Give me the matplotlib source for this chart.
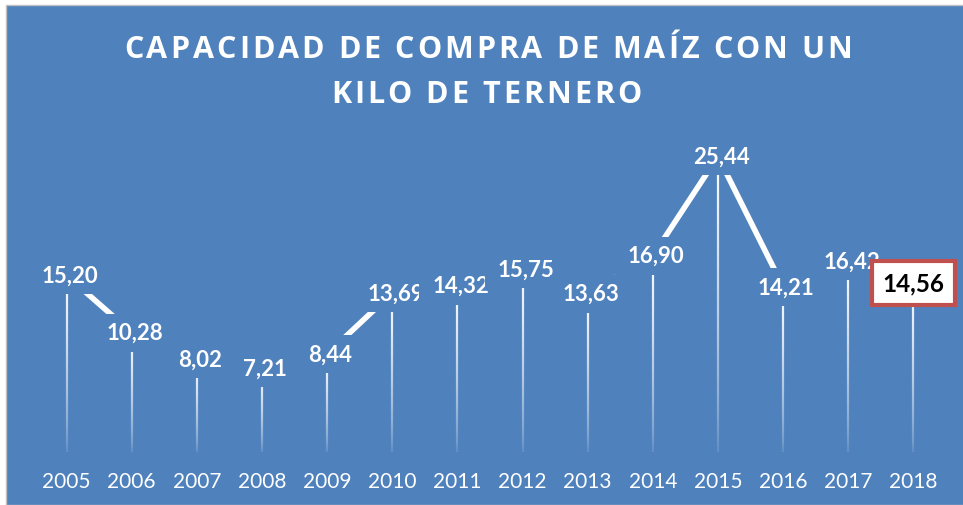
import numpy as np
import matplotlib.pyplot as plt
from matplotlib.collections import LineCollection
from matplotlib.patches import Rectangle

# datos
years = ["2005", "2006", "2007", "2008", "2009", "2010", "2011",
         "2012", "2013", "2014", "2015", "2016", "2017", "2018"]
values = [15.20, 10.28, 8.02, 7.21, 8.44, 13.69, 14.32,
          15.75, 13.63, 16.90, 25.44, 14.21, 16.42, 14.56]
title_lines = ["CAPACIDAD DE COMPRA DE MAÍZ CON UN", "KILO DE TERNERO"]

BLUE = '#4F81BD'
RED = '#C0504D'
W, H = 963, 506
YMAX = 30

plt.rcParams['font.family'] = ['Lato', 'DejaVu Sans']

fig = plt.figure(figsize=(W / 100, H / 100), dpi=100, facecolor='white')
fig.patches.append(Rectangle((6 / W, 0), 1, 1 - 6 / H, transform=fig.transFigure,
                             facecolor=BLUE, edgecolor='#BFBFBF', lw=1, zorder=-5))

ax_w, ax_h = 912, 348.6
ax = fig.add_axes([34 / W, 53 / H, ax_w / W, ax_h / H])
ax.set_facecolor('none')
x = np.arange(len(years))
ax.set_xlim(-0.5, len(years) - 0.5)
ax.set_ylim(0, YMAX)

# drop lines with a fading gradient
n = 60
segs, cols = [], []
for xi, v in zip(x, values):
    ys = np.linspace(0, v, n + 1)
    for k in range(n):
        segs.append([(xi, ys[k]), (xi, ys[k + 1])])
        a = 0.08 + 0.92 * ((k + 0.5) / n) ** 0.7
        cols.append((1, 1, 1, a))
ax.add_collection(LineCollection(segs, colors=cols, linewidths=1.6, zorder=1))

# main line
ax.plot(x, values, color='white', lw=4, solid_capstyle='butt', zorder=2)

# data labels: a blue box behind each one hides the line near the point
hw = 38 * len(years) / ax_w      # half width, 38 px
hh = 19 * YMAX / ax_h            # half height, 19 px
for i, v in enumerate(values):
    label = f"{v:.2f}".replace('.', ',')
    z = 3 + 2 * i
    if i == len(values) - 1:
        ax.text(x[i], v, label, ha='center', va='center', color='black',
                fontsize=17.5, fontweight='bold', zorder=z + 1,
                bbox=dict(boxstyle='square,pad=0.42', fc='white', ec=RED, lw=3))
    else:
        ax.add_patch(Rectangle((x[i] - hw, v - hh), 2 * hw, 2 * hh,
                               fc=BLUE, ec='none', zorder=z))
        ax.text(x[i] + 0.05, v, label, ha='center', va='center', color='white',
                fontsize=16, fontweight='bold', zorder=z + 1)

ax.set_xticks(x, years)
ax.set_yticks([])
ax.tick_params(axis='x', length=0, labelcolor='white', labelsize=15, pad=14)
for s in ax.spines.values():
    s.set_visible(False)


# title with extra letter spacing, drawn char by char
def spaced_title(text, xc, yc, spacing=3.0, size=22):
    r = fig.canvas.get_renderer()
    kw = dict(color='white', fontsize=size, fontweight='bold',
              family=['Open Sans', 'DejaVu Sans'], va='center', ha='left')
    widths = []
    for ch in text:
        t = fig.text(0, 0, ch.replace(' ', '\u00a0'), **kw)
        widths.append(t.get_window_extent(r).width)
        t.remove()
    total = sum(widths) + spacing * (len(text) - 1)
    xp = xc - total / 2
    for ch, w in zip(text, widths):
        if ch != ' ':
            fig.text(xp / W, 1 - yc / H, ch, **kw)
        xp += w + spacing


spaced_title(title_lines[0], 488, 50)
spaced_title(title_lines[1], 486, 95)

fig.savefig('out.png', dpi=100, facecolor=fig.get_facecolor())
